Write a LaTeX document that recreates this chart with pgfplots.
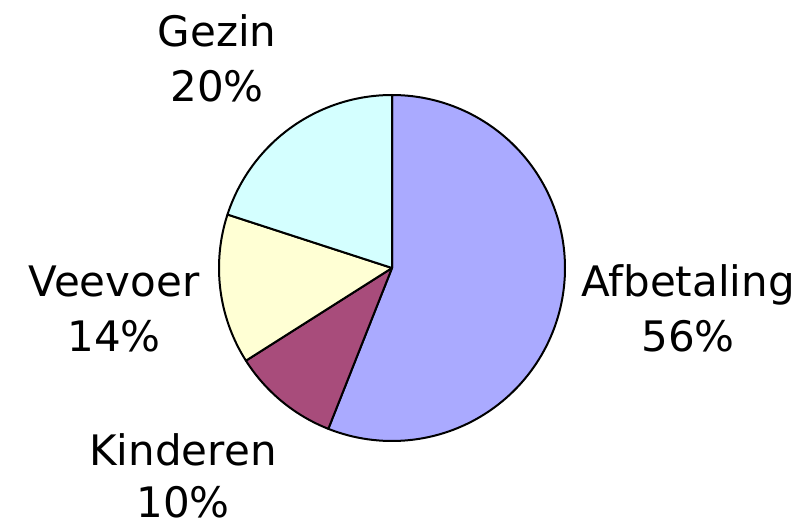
\documentclass[border=0pt]{standalone}
\usepackage{pgfplots}
\pgfplotsset{compat=1.18}
\usepackage{fontspec}
\setmainfont{DejaVu Sans}
\definecolor{cA}{HTML}{AAAAFF}
\definecolor{cK}{HTML}{A84C7B}
\definecolor{cV}{HTML}{FFFFD4}
\definecolor{cG}{HTML}{D4FFFF}
% shares in percent
\def\vA{56}\def\vK{10}\def\vV{14}\def\vG{20}
\pgfmathsetmacro\aA{90}
\pgfmathsetmacro\aB{\aA-3.6*\vA}
\pgfmathsetmacro\aC{\aB-3.6*\vK}
\pgfmathsetmacro\aD{\aC-3.6*\vV}
\pgfmathsetmacro\aE{\aD-3.6*\vG}
\newcommand\lblfont{\fontsize{42bp}{55bp}\selectfont}
\tikzset{lbl/.style={anchor=base, inner sep=0pt, font=\lblfont}}
\begin{document}
\begin{tikzpicture}
\begin{axis}[
  scale only axis, width=806bp, height=530bp,
  xmin=0, xmax=806, ymin=0, ymax=530, y dir=reverse,
  enlargelimits=false, hide axis, clip=false,
]
\path (0,0) rectangle (806,530);
\addplot[fill=cA, draw=black, line width=2bp, line join=round, domain=\aB:\aA, samples=120, variable=\t]
  ({392+173*cos(t)},{268-173*sin(t)}) -- (392,268) -- cycle;
\addplot[fill=cK, draw=black, line width=2bp, line join=round, domain=\aC:\aB, samples=40, variable=\t]
  ({392+173*cos(t)},{268-173*sin(t)}) -- (392,268) -- cycle;
\addplot[fill=cV, draw=black, line width=2bp, line join=round, domain=\aD:\aC, samples=40, variable=\t]
  ({392+173*cos(t)},{268-173*sin(t)}) -- (392,268) -- cycle;
\addplot[fill=cG, draw=black, line width=2bp, line join=round, domain=\aE:\aD, samples=50, variable=\t]
  ({392+173*cos(t)},{268-173*sin(t)}) -- (392,268) -- cycle;
\node[lbl] at (217,47) {Gezin};
\node[lbl] at (217,102) {20\%};
\node[lbl] at (114,297) {Veevoer};
\node[lbl] at (114,352) {14\%};
\node[lbl] at (688,297) {Afbetaling};
\node[lbl] at (688,352) {56\%};
\node[lbl] at (183,466) {Kinderen};
\node[lbl] at (183,518) {10\%};
\end{axis}
\end{tikzpicture}
\end{document}
